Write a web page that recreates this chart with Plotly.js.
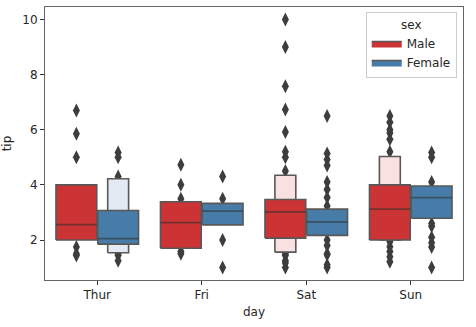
<!DOCTYPE html>
<html>
<head>
<meta charset="utf-8">
<script src="https://cdn.plot.ly/plotly-3.0.1.min.js"></script>
<style>html,body{margin:0;padding:0;background:#fff;}#chart{width:476px;height:327px;}</style>
</head>
<body>
<div id="chart"></div>
<script>
// ---- data (tips by day, split by sex) ----
const days = ['Thur', 'Fri', 'Sat', 'Sun'];
const sexes = ['Male', 'Female'];

const maleMedian = [2.56, 2.63, 3.02, 3.12];
const maleLo1 = [2.0, 1.7, 2.07, 2.0];
const maleHi1 = [4.0, 3.39, 3.47, 4.0];
const maleLo2 = [null, null, 1.56, 2.0];
const maleHi2 = [null, null, 4.35, 5.03];

const femaleMedian = [2.05, 3.05, 2.66, 3.54];
const femaleLo1 = [1.85, 2.55, 2.17, 2.79];
const femaleHi1 = [3.07, 3.33, 3.12, 3.96];
const femaleLo2 = [1.54, null, null, null];
const femaleHi2 = [4.22, null, null, null];

const maleOutliers = [
  [6.7, 5.85, 5.0, 1.75, 1.5, 1.44],
  [4.73, 4.0, 3.5, 1.58, 1.5],
  [10.0, 9.0, 7.58, 6.73, 5.92, 5.2, 5.0, 4.5, 1.5, 1.44, 1.25, 1.17, 1.0],
  [6.5, 6.27, 6.0, 5.88, 5.65, 5.2, 1.94, 1.76, 1.58, 1.39, 1.21]
];
const femaleOutliers = [
  [5.17, 5.0, 4.3, 1.5, 1.44, 1.25],
  [4.3, 3.5, 2.0, 1.0],
  [6.5, 5.14, 4.92, 4.7, 4.1, 3.83, 3.54, 3.23, 2.0, 1.8, 1.5, 1.47, 1.1, 1.0],
  [5.17, 5.0, 4.1, 2.6, 2.5, 2.1, 1.9, 1.75, 1.0]
];

// ---- styling ----
const maleColor = '#cb3335';
const femaleColor = '#477ca8';
const maleLight = '#f9e1e1';
const femaleLight = '#e2e9f2';
const edge = 'rgb(88,88,88)';
const dodge = 0.2;
const width1 = 0.39;
const width2 = 0.2;

function boxPolys(lo, hi, offset, w) {
  const xs = [], ys = [];
  lo.forEach((l, i) => {
    const h = hi[i];
    if (l === null || h === null) return;
    const c = i + offset;
    xs.push(c - w / 2, c + w / 2, c + w / 2, c - w / 2, c - w / 2, null);
    ys.push(l, l, h, h, l, null);
  });
  return {x: xs, y: ys};
}
function medianLines(med, offset, w) {
  const xs = [], ys = [];
  med.forEach((m, i) => {
    const c = i + offset;
    xs.push(c - w / 2, c + w / 2, null);
    ys.push(m, m, null);
  });
  return {x: xs, y: ys};
}
function outlierPts(list, offset) {
  const xs = [], ys = [];
  list.forEach((arr, i) => arr.forEach(v => { xs.push(i + offset); ys.push(v); }));
  return {x: xs, y: ys};
}

const traces = [];
[[maleOutliers, -dodge], [femaleOutliers, dodge]].forEach(([o, off]) => {
  const p = outlierPts(o, off);
  traces.push({type: 'scatter', mode: 'markers', x: p.x, y: p.y, showlegend: false, hoverinfo: 'skip',
    marker: {symbol: 'diamond-tall', size: 10, color: '#3d3d3d', line: {width: 0}}});
});
[[maleLo2, maleHi2, -dodge, maleLight], [femaleLo2, femaleHi2, dodge, femaleLight]].forEach(([lo, hi, off, col]) => {
  const b = boxPolys(lo, hi, off, width2);
  traces.push({type: 'scatter', mode: 'lines', x: b.x, y: b.y, fill: 'toself', fillcolor: col,
    line: {color: edge, width: 1.6}, showlegend: false, hoverinfo: 'skip'});
});
[[maleLo1, maleHi1, -dodge, maleColor, sexes[0]], [femaleLo1, femaleHi1, dodge, femaleColor, sexes[1]]].forEach(([lo, hi, off, col, nm]) => {
  const b = boxPolys(lo, hi, off, width1);
  traces.push({type: 'scatter', mode: 'lines', x: b.x, y: b.y, fill: 'toself', fillcolor: col, name: nm,
    line: {color: edge, width: 1.6}, showlegend: true, hoverinfo: 'skip'});
});
[[maleMedian, -dodge], [femaleMedian, dodge]].forEach(([m, off]) => {
  const l = medianLines(m, off, width1);
  traces.push({type: 'scatter', mode: 'lines', x: l.x, y: l.y, showlegend: false, hoverinfo: 'skip',
    line: {color: 'rgba(45,45,45,0.55)', width: 1.8}});
});

const font = {family: 'DejaVu Sans', size: 12, color: '#262626'};
const layout = {
  width: 476, height: 327,
  margin: {l: 45, r: 13, t: 7, b: 47},
  paper_bgcolor: '#fff', plot_bgcolor: '#fff',
  font: font,
  showlegend: true,
  xaxis: {
    range: [-0.5, 3.5], tickmode: 'array', tickvals: days.map((d, i) => i), ticktext: days,
    showgrid: false, zeroline: false, showline: true, mirror: true, linecolor: '#666', linewidth: 1,
    ticks: 'outside', ticklen: 4, tickcolor: '#333', tickfont: font,
    title: {text: 'day', font: font, standoff: 6}
  },
  yaxis: {
    range: [0.55, 10.45], tickvals: [2, 4, 6, 8, 10],
    showgrid: false, zeroline: false, showline: true, mirror: true, linecolor: '#666', linewidth: 1,
    ticks: 'outside', ticklen: 4, tickcolor: '#333', tickfont: font,
    title: {text: 'tip', font: font, standoff: 8}
  },
  legend: {
    x: 0.985, y: 0.98, xanchor: 'right', yanchor: 'top',
    bgcolor: 'rgba(255,255,255,0.85)', bordercolor: '#ccc', borderwidth: 1,
    font: {family: 'DejaVu Sans', size: 12, color: '#262626'},
    title: {text: 'sex', side: 'top center', font: {family: 'DejaVu Sans', size: 12, color: '#262626'}},
    itemwidth: 30, tracegroupgap: 0
  }
};
Plotly.newPlot('chart', traces, layout, {staticPlot: true, displayModeBar: false});
</script>
</body>
</html>
